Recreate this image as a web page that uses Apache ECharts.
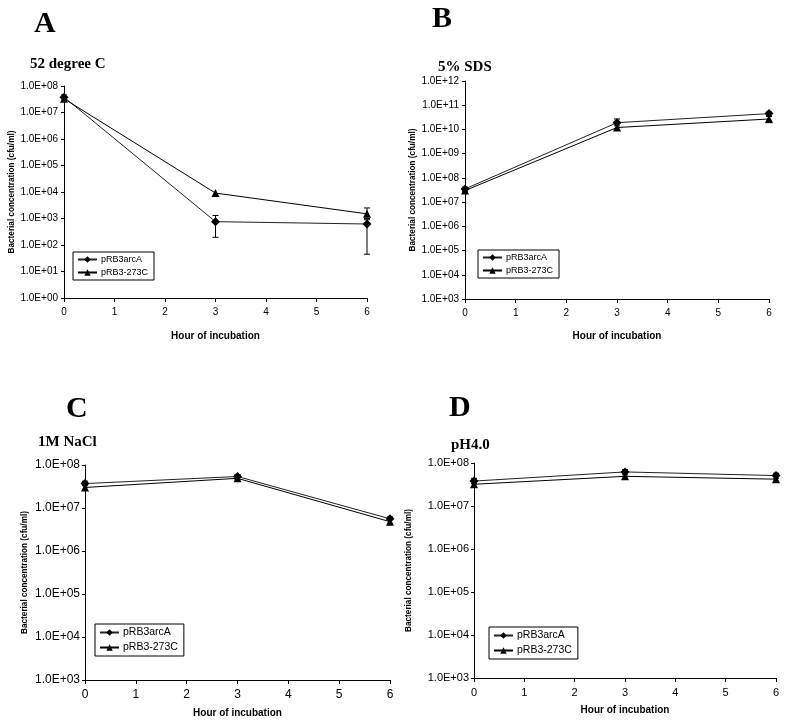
<!DOCTYPE html>
<html><head><meta charset="utf-8">
<script src="https://cdn.jsdelivr.net/npm/echarts@6/dist/echarts.min.js"></script>
<style>html,body{margin:0;padding:0;background:#fff}#c{width:794px;height:724px}</style>
</head><body><div id="c"></div>
<script>
const hours = [0, 3, 6];
const seriesNames = ['pRB3arcA', 'pRB3-273C'];
const panelLetters = ['A', 'B', 'C', 'D'];
const panelTitles = ['52 degree C', '5% SDS', '1M NaCl', 'pH4.0'];
const xTicks = [0, 1, 2, 3, 4, 5, 6];
// values (cfu/ml)
const aArc = [3.8e7, 760, 620];
const aTri = [3.3e7, 9100, 1500];
const bArc = [3.5e7, 1.9e10, 4.5e10];
const bTri = [3.0e7, 1.2e10, 2.7e10];
const cArc = [3.7e7, 5.4e7, 5.6e6];
const cTri = [3.0e7, 4.9e7, 4.8e6];
const dArc = [3.8e7, 6.2e7, 5.1e7];
const dTri = [3.2e7, 4.9e7, 4.2e7];
// error bars [hour, low, high]
const aErr = [[0, 2.8e7, 4.6e7], [3, 195, 1300], [6, 45, 900], [6, 1000, 2500]];
const bErr = [[0, 2.7e7, 4.2e7], [3, 1.4e10, 2.7e10], [6, 3.8e10, 5.3e10], [6, 1.9e10, 3.4e10]];
const cErr = [[0, 3.3e7, 4.2e7], [3, 4.6e7, 6.0e7], [6, 4.3e6, 6.2e6]];
const dErr = [[0, 3.3e7, 4.4e7], [3, 5.3e7, 7.0e7], [6, 4.4e7, 5.8e7]];
// y ranges (exponents)
const yMinExp = [0, 3, 3, 3];
const yMaxExp = [8, 12, 8, 8];

const arcVals = [aArc, bArc, cArc, dArc];
const triVals = [aTri, bTri, cTri, dTri];
const errVals = [aErr, bErr, cErr, dErr];

const grids = [
  {left: 64, top: 86, width: 303, height: 212},
  {left: 465, top: 81, width: 304, height: 218},
  {left: 85, top: 465, width: 305, height: 215},
  {left: 474, top: 463, width: 302, height: 215}
];
const tickFont = [10, 10, 12, 11];
const xLabelMargin = [9, 9, 9, 9];
const xNameGap = [33, 32, 28, 27];
const yNameGap = [48, 48, 56, 61];
const yLabelMargin = [6, 6, 5, 5];
const legendPos = [
  {left: 73, top: 252}, {left: 478, top: 250}, {left: 95, top: 624}, {left: 489, top: 627}
];
const legendFont = [9, 9, 10.5, 10.5];
const letterPos = [[34, 9], [432, 4], [66, 394], [449, 393]];
const subPos = [[30, 57], [438, 60], [38, 435], [451, 438]];

const fmt = v => {
  const e = Math.round(Math.log10(v));
  return '1.0E+' + (e < 10 ? '0' : '') + e;
};

const option = {
  animation: false,
  backgroundColor: '#fff',
  title: [],
  grid: grids,
  xAxis: [], yAxis: [], series: [], legend: []
};

for (let i = 0; i < 4; i++) {
  option.title.push({
    text: panelLetters[i], left: letterPos[i][0], top: letterPos[i][1], padding: 0,
    textStyle: {fontFamily: 'Liberation Serif', fontWeight: 'bold', fontSize: 30, color: '#000'}
  });
  option.title.push({
    text: panelTitles[i], left: subPos[i][0], top: subPos[i][1], padding: 0,
    textStyle: {fontFamily: 'Liberation Serif', fontWeight: 'bold', fontSize: 15, color: '#000'}
  });
  option.xAxis.push({
    type: 'value', gridIndex: i, min: xTicks[0], max: xTicks[xTicks.length - 1], interval: 1,
    name: 'Hour of incubation', nameLocation: 'middle', nameGap: xNameGap[i],
    nameTextStyle: {fontFamily: 'Liberation Sans', fontWeight: 'bold', fontSize: 10, color: '#000'},
    axisLine: {lineStyle: {color: '#000', width: 1}},
    axisTick: {show: true, length: 4, lineStyle: {color: '#000'}},
    axisLabel: {fontFamily: 'Liberation Sans', fontSize: tickFont[i], color: '#000', margin: xLabelMargin[i]},
    splitLine: {show: false}
  });
  option.yAxis.push({
    type: 'log', logBase: 10, gridIndex: i,
    min: Math.pow(10, yMinExp[i]), max: Math.pow(10, yMaxExp[i]), interval: 1,
    name: 'Bacterial concentration (cfu/ml)', nameLocation: 'middle', nameGap: yNameGap[i], nameRotate: 90,
    nameTextStyle: {fontFamily: 'Liberation Sans', fontWeight: 'bold', fontSize: 8.2, color: '#000'},
    axisLine: {show: true, lineStyle: {color: '#000', width: 1}},
    axisTick: {show: true, length: 3, lineStyle: {color: '#000'}},
    axisLabel: {fontFamily: 'Liberation Sans', fontSize: tickFont[i], color: '#000', margin: yLabelMargin[i], formatter: fmt},
    splitLine: {show: false}
  });
  option.series.push({
    type: 'custom', xAxisIndex: i, yAxisIndex: i, z: 1, silent: true,
    data: errVals[i],
    encode: {x: 0, y: [1, 2]},
    renderItem: function (params, api) {
      const x = api.value(0);
      const p1 = api.coord([x, api.value(1)]);
      const p2 = api.coord([x, api.value(2)]);
      const w = 3;
      const st = {stroke: '#000', lineWidth: 1};
      return {type: 'group', children: [
        {type: 'line', shape: {x1: p1[0], y1: p1[1], x2: p2[0], y2: p2[1]}, style: st},
        {type: 'line', shape: {x1: p1[0] - w, y1: p1[1], x2: p1[0] + w, y2: p1[1]}, style: st},
        {type: 'line', shape: {x1: p2[0] - w, y1: p2[1], x2: p2[0] + w, y2: p2[1]}, style: st}
      ]};
    }
  });
  option.series.push({
    name: seriesNames[0], type: 'line', xAxisIndex: i, yAxisIndex: i, z: 3,
    data: hours.map((h, k) => [h, arcVals[i][k]]),
    symbol: 'diamond', symbolSize: 9,
    lineStyle: {color: '#222', width: 1}, itemStyle: {color: '#000'}
  });
  option.series.push({
    name: seriesNames[1], type: 'line', xAxisIndex: i, yAxisIndex: i, z: 3,
    data: hours.map((h, k) => [h, triVals[i][k]]),
    symbol: 'triangle', symbolSize: 8,
    lineStyle: {color: '#000', width: 1}, itemStyle: {color: '#000'}
  });
  option.legend.push({
    data: seriesNames, orient: 'vertical', left: legendPos[i].left, top: legendPos[i].top,
    borderColor: '#000', borderWidth: 1, padding: [3, 6, 3, 4], itemGap: 4,
    itemWidth: 19, itemHeight: 8, selectedMode: false,
    textStyle: {fontFamily: 'Liberation Sans', fontSize: legendFont[i], color: '#000', padding: [0, 0, 0, -1]}
  });
}

const chart = echarts.init(document.getElementById('c'), null, {renderer: 'canvas'});
chart.setOption(option);
</script></body></html>
